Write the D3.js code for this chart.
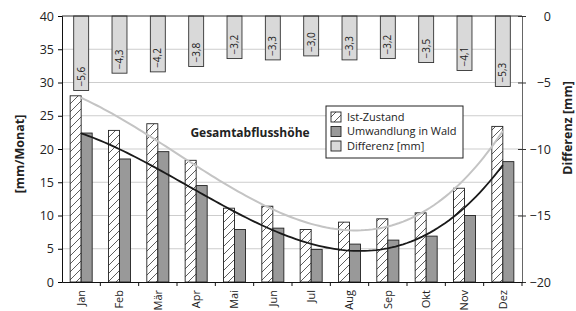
<!DOCTYPE html>
<html>
<head>
<meta charset="utf-8">
<script src="https://cdn.jsdelivr.net/npm/d3@7"></script>
<style>
  body { margin: 0; background: #fff; }
  text { font-family: "Open Sans", sans-serif; fill: #222; }
</style>
</head>
<body>
<div id="chart"></div>
<script>
// data
const months = ["Jan", "Feb", "Mär", "Apr", "Mai", "Jun", "Jul", "Aug", "Sep", "Okt", "Nov", "Dez"]
const istZustand = [28.0, 22.8, 23.8, 18.3, 11.1, 11.4, 7.9, 9.0, 9.5, 10.4, 14.1, 23.4]
const umwandlung = [22.4, 18.5, 19.6, 14.5, 7.9, 8.1, 4.9, 5.7, 6.3, 6.9, 10.0, 18.1]
const differenz = [-5.6, -4.3, -4.2, -3.8, -3.2, -3.3, -3.0, -3.3, -3.2, -3.5, -4.1, -5.3]
const leftTicks = [0, 5, 10, 15, 20, 25, 30, 35, 40]
const rightTicks = [0, -5, -10, -15, -20]
const seriesNames = ["Ist-Zustand", "Umwandlung in Wald", "Differenz [mm]"]

const width = 576, height = 311
const m = { top: 16, right: 54, bottom: 29, left: 62 }
const W = width - m.left - m.right
const H = height - m.top - m.bottom

const svg = d3.select('#chart').append('svg')
    .attr('width', width)
    .attr('height', height)

// hatch for Ist-Zustand
svg.append('defs').append('pattern')
    .attr('id', 'hatch')
    .attr('patternUnits', 'userSpaceOnUse')
    .attr('width', 8).attr('height', 8)
    .call(p => {
        p.append('rect').attr('width', 8).attr('height', 8).attr('fill', '#fff')
        p.append('path').attr('d', 'M-2,2 L2,-2 M0,8 L8,0 M6,10 L10,6')
            .attr('stroke', '#333').attr('stroke-width', 0.8)
    })

const g = svg.append('g').attr('transform', `translate(${m.left},${m.top})`)

const x = d3.scaleBand().domain(months).range([0, W])
const x1 = d3.scaleBand().domain(["ist", "umw"]).range([0, x.bandwidth()]).paddingOuter(0.74)
const y = d3.scaleLinear().domain([0, 40]).range([H, 0])
const yr = d3.scaleLinear().domain([-20, 0]).range([H, 0])
const diffW = x.bandwidth() * 0.39

// grid lines
g.selectAll('.grid').data(leftTicks.filter(t => t > 0 && t < 40)).join('line')
    .attr('x1', 0).attr('x2', W)
    .attr('y1', d => y(d)).attr('y2', d => y(d))
    .attr('stroke', '#cdcdcd').attr('stroke-width', 1)

// differenz bars hanging from the top
const diffG = g.append('g')
diffG.selectAll('rect').data(differenz).join('rect')
    .attr('x', (d, i) => x(months[i]) + x.bandwidth() / 2 - diffW / 2)
    .attr('y', yr(0))
    .attr('width', diffW)
    .attr('height', d => yr(d) - yr(0))
    .attr('fill', '#d9d9d9').attr('stroke', '#333').attr('stroke-width', 0.9)

diffG.selectAll('text').data(differenz).join('text')
    .attr('transform', (d, i) => `translate(${x(months[i]) + x.bandwidth() / 2 + 3.5},${yr(d) - 4}) rotate(-90)`)
    .attr('font-size', 10)
    .text(d => d.toFixed(1).replace('.', ',').replace('-', '−'))

// bars
g.selectAll('.ist').data(istZustand).join('rect')
    .attr('x', (d, i) => x(months[i]) + x1("ist"))
    .attr('y', d => y(d))
    .attr('width', x1.bandwidth())
    .attr('height', d => y(0) - y(d))
    .attr('fill', 'url(#hatch)').attr('stroke', '#222').attr('stroke-width', 0.9)

g.selectAll('.umw').data(umwandlung).join('rect')
    .attr('x', (d, i) => x(months[i]) + x1("umw"))
    .attr('y', d => y(d))
    .attr('width', x1.bandwidth())
    .attr('height', d => y(0) - y(d))
    .attr('fill', '#999').attr('stroke', '#222').attr('stroke-width', 0.9)

// polynomial trend (order 3) like the spreadsheet trendline
function polyfit(ys, order) {
    const n = order + 1
    const A = [], b = []
    for (let r = 0; r < n; r++) {
        A.push(d3.range(n).map(c => d3.sum(ys, (v, i) => Math.pow(i + 1, r + c))))
        b.push(d3.sum(ys, (v, i) => v * Math.pow(i + 1, r)))
    }
    for (let c = 0; c < n; c++) {
        for (let r = c + 1; r < n; r++) {
            const f = A[r][c] / A[c][c]
            for (let k = c; k < n; k++) A[r][k] -= f * A[c][k]
            b[r] -= f * b[c]
        }
    }
    const coef = new Array(n).fill(0)
    for (let r = n - 1; r >= 0; r--) {
        let s = b[r]
        for (let k = r + 1; k < n; k++) s -= A[r][k] * coef[k]
        coef[r] = s / A[r][r]
    }
    return t => d3.sum(coef, (c, k) => c * Math.pow(t, k))
}

const xm = d3.scaleLinear().domain([1, 12])
    .range([x(months[0]) + x.bandwidth() / 2, x(months[11]) + x.bandwidth() / 2])
const ts = d3.range(1, 12.001, 0.1)
const line = d3.line().x(d => xm(d[0])).y(d => y(d[1]))

const fIst = polyfit(istZustand, 3)
const fUmw = polyfit(umwandlung, 3)
g.append('path').attr('d', line(ts.map(t => [t, fIst(t)])))
    .attr('fill', 'none').attr('stroke', '#c4c4c4').attr('stroke-width', 2)
g.append('path').attr('d', line(ts.map(t => [t, fUmw(t)])))
    .attr('fill', 'none').attr('stroke', '#1a1a1a').attr('stroke-width', 1.8)

// axes
g.append('line').attr('x1', 0).attr('x2', W).attr('y1', 0).attr('y2', 0)
    .attr('stroke', '#333').attr('stroke-width', 1)

const yAxis = g.append('g').call(d3.axisLeft(y).tickValues(leftTicks).tickSize(4).tickPadding(4))
yAxis.selectAll('text').attr('font-size', 12.5).attr('fill', '#222')
yAxis.select('.domain').attr('stroke', '#111')

const yrAxis = g.append('g').attr('transform', `translate(${W},0)`)
    .call(d3.axisRight(yr).tickValues(rightTicks).tickSize(0).tickFormat(d => String(d).replace('-', '−')))
yrAxis.select('.domain').attr('stroke', '#666')
yrAxis.selectAll('.tick line').attr('x1', -4).attr('x2', 4).attr('stroke', '#333')
yrAxis.selectAll('text').attr('font-size', 12.5).attr('fill', '#222')
    .attr('text-anchor', 'end').attr('x', 29)

const xAxis = g.append('g').attr('transform', `translate(0,${H})`)
    .call(d3.axisBottom(x).tickSize(0).tickPadding(0))
xAxis.select('.domain').attr('stroke', '#111')
xAxis.selectAll('text')
    .attr('font-size', 11).attr('fill', '#222')
    .attr('text-anchor', 'end')
    .attr('transform', 'rotate(-90)')
    .attr('x', -8).attr('y', 0).attr('dy', '0.35em')
g.selectAll('.xsep').data(months.slice(1).concat(["end"])).join('line')
    .attr('x1', (d, i) => d === "end" ? W : x(d)).attr('x2', (d, i) => d === "end" ? W : x(d))
    .attr('y1', H).attr('y2', H + 4)
    .attr('stroke', '#111')

// axis titles
svg.append('text')
    .attr('transform', `translate(24,${m.top + H / 2 + 5}) rotate(-90)`)
    .attr('text-anchor', 'middle').attr('font-size', 12.5).attr('font-weight', 'bold')
    .text('[mm/Monat]')
svg.append('text')
    .attr('transform', `translate(572,${m.top + 112}) rotate(-90)`)
    .attr('text-anchor', 'middle').attr('font-size', 12.5).attr('font-weight', 'bold')
    .text('Differenz [mm]')

// chart title inside the plot
svg.append('text')
    .attr('x', 250).attr('y', 137)
    .attr('text-anchor', 'middle').attr('font-size', 12).attr('font-weight', 'bold')
    .text('Gesamtabflusshöhe')

// legend
const leg = svg.append('g').attr('transform', 'translate(326,106)')
leg.append('rect').attr('width', 137).attr('height', 52)
    .attr('fill', '#fff').attr('stroke', '#222').attr('stroke-width', 1)
const swatch = ['url(#hatch)', '#999', '#d9d9d9']
seriesNames.forEach((s, i) => {
    leg.append('rect').attr('x', 5).attr('y', 6 + i * 14.5).attr('width', 10).attr('height', 10)
        .attr('fill', swatch[i]).attr('stroke', '#222').attr('stroke-width', 0.9)
    leg.append('text').attr('x', 21).attr('y', 11 + i * 14.5).attr('dy', '0.35em')
        .attr('font-size', 11).text(s)
})
</script>
</body>
</html>
